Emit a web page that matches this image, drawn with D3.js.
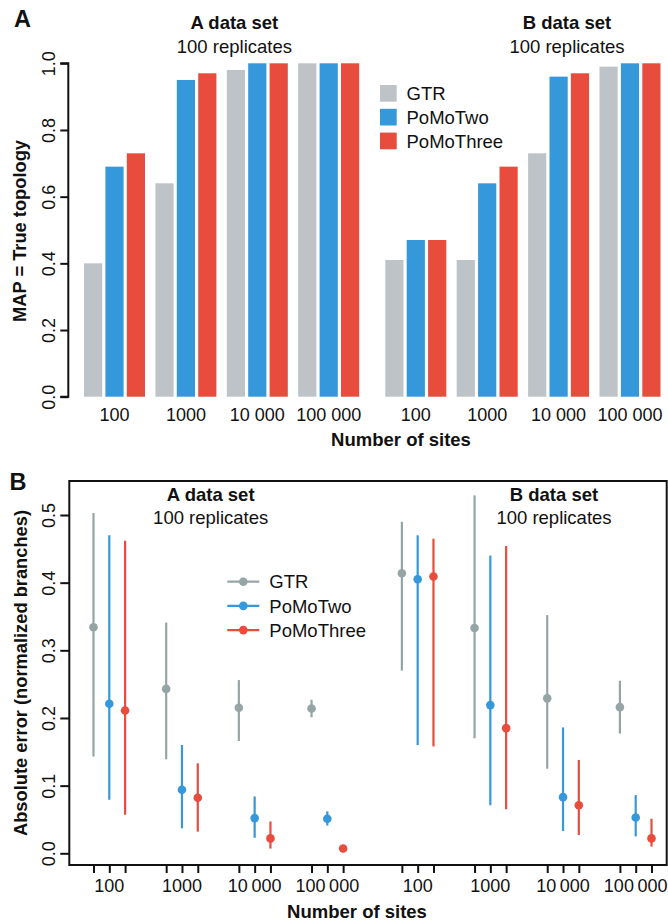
<!DOCTYPE html>
<html><head><meta charset="utf-8">
<script src="https://cdn.jsdelivr.net/npm/d3@7"></script>
<style>
body{margin:0;background:#fff;}
svg text{font-family:"Liberation Sans",Arial,Helvetica,sans-serif;fill:#111;}
</style></head>
<body><svg id="c" width="668" height="923"></svg>
<script>
// ---- data ----
const sites = ["100", "1000", "10 000", "100 000"];
const sitesB = ["100", "1000", "10\u2009000", "100\u2009000"];
const datasets = ["A data set", "B data set"];
const subtitle = "100 replicates";
const series = ["GTR", "PoMoTwo", "PoMoThree"];
const barColors = ["#BDC3C7", "#3498DB", "#E74C3C"];
const pointColors = ["#95A5A6", "#3498DB", "#E74C3C"];

// Panel A: fraction MAP = true topology (A data set then B data set)
const mapGTR       = [0.40, 0.64, 0.98, 1.00, 0.41, 0.41, 0.73, 0.99];
const mapPoMoTwo   = [0.69, 0.95, 1.00, 1.00, 0.47, 0.64, 0.96, 1.00];
const mapPoMoThree = [0.73, 0.97, 1.00, 1.00, 0.47, 0.69, 0.97, 1.00];
const yTicksA = [0, 0.2, 0.4, 0.6, 0.8, 1.0];

// Panel B: absolute error (normalized branches)
const errGTRmid = [0.334, 0.243, 0.215, 0.214, 0.414, 0.333, 0.229, 0.216];
const errGTRlo  = [0.143, 0.139, 0.166, 0.201, 0.270, 0.170, 0.125, 0.177];
const errGTRhi  = [0.503, 0.341, 0.256, 0.227, 0.490, 0.529, 0.352, 0.255];
const errTwoMid = [0.221, 0.094, 0.052, 0.051, 0.405, 0.219, 0.083, 0.053];
const errTwoLo  = [0.079, 0.037, 0.023, 0.041, 0.160, 0.071, 0.033, 0.025];
const errTwoHi  = [0.470, 0.160, 0.084, 0.062, 0.470, 0.440, 0.186, 0.086];
const errThreeMid = [0.211, 0.082, 0.022, 0.007, 0.409, 0.185, 0.071, 0.022];
const errThreeLo  = [0.057, 0.032, 0.007, 0.004, 0.158, 0.065, 0.027, 0.010];
const errThreeHi  = [0.462, 0.133, 0.047, 0.010, 0.465, 0.454, 0.138, 0.051];
const yTicksB = [0, 0.1, 0.2, 0.3, 0.4, 0.5];

const mapVals = [mapGTR, mapPoMoTwo, mapPoMoThree];
const errVals = [
  {mid: errGTRmid, lo: errGTRlo, hi: errGTRhi},
  {mid: errTwoMid, lo: errTwoLo, hi: errTwoHi},
  {mid: errThreeMid, lo: errThreeLo, hi: errThreeHi}
];

const svg = d3.select("#c");
const fmt = d3.format(".1f");
// group position: group index plus extra gap between the two data sets
const groupPos = (g, gap) => (g % 4) + (g >= 4 ? 4 + gap : 0);

// ================= Panel A =================
{
  const gA = svg.append("g");
  const x = d3.scaleLinear().domain([0, 7.22]).range([114.5, 630]);
  const inner = d3.scaleBand().domain(series).range([-30.5, 30.5]).paddingInner(0.15);
  const y = d3.scaleLinear().domain([0, 1]).range([396.7, 63.3]);

  series.forEach((s, si) => {
    gA.append("g").selectAll("rect").data(mapVals[si]).join("rect")
      .attr("x", (d, i) => x(groupPos(i, 0.22)) + inner(s))
      .attr("width", inner.bandwidth())
      .attr("y", d => y(d))
      .attr("height", d => y(0) - y(d))
      .attr("fill", barColors[si]);
  });

  const ax = gA.append("g").attr("transform", "translate(68.3,0)")
    .call(d3.axisLeft(y).tickValues(yTicksA).tickFormat(fmt).tickSize(8).tickPadding(0));
  ax.select(".domain").attr("stroke", "#111").attr("stroke-width", 2).attr("d", `M-8,${y(0)}H0V${y(1)}H-8`);
  ax.selectAll(".tick line").attr("stroke", "#111").attr("stroke-width", 2);
  ax.selectAll(".tick text").attr("x", null).attr("dy", null).attr("text-anchor", "middle")
    .attr("transform", "translate(-13.3,0) rotate(-90)").attr("font-size", 18).attr("fill", "#111");

  // x labels
  const labelsA = [...sites, ...sites];
  gA.append("g").selectAll("text").data(labelsA).join("text")
    .attr("x", (d, i) => x(groupPos(i, 0.22)))
    .attr("y", 420.7).attr("text-anchor", "middle").attr("font-size", 18).text(d => d);

  gA.append("text").attr("x", 401).attr("y", 446).attr("text-anchor", "middle")
    .attr("font-size", 18.5).attr("font-weight", "bold").text("Number of sites");
  gA.append("text").attr("transform", "translate(26,231) rotate(-90)").attr("text-anchor", "middle")
    .attr("font-size", 18.3).attr("font-weight", "bold").text("MAP = True topology");

  // titles
  [[234.4, datasets[0]], [567, datasets[1]]].forEach(([cx, t]) => {
    gA.append("text").attr("x", cx).attr("y", 29).attr("text-anchor", "middle")
      .attr("font-size", 18.5).attr("font-weight", "bold").text(t);
    gA.append("text").attr("x", cx).attr("y", 52.5).attr("text-anchor", "middle")
      .attr("font-size", 18.5).text(subtitle);
  });

  // legend
  const lg = gA.append("g").selectAll("g").data(series).join("g")
    .attr("transform", (d, i) => `translate(380,${85 + i * 23.8})`);
  lg.append("rect").attr("width", 16.7).attr("height", 16.7).attr("fill", (d, i) => barColors[i]);
  lg.append("text").attr("x", 26.5).attr("y", 15).attr("font-size", 18.5).text(d => d);

  gA.append("text").attr("x", 14).attr("y", 26.7).attr("font-size", 23.5).attr("font-weight", "bold").text("A");
}

// ================= Panel B =================
{
  const gB = svg.append("g");
  const x = d3.scaleLinear().domain([0, 7.243]).range([109.3, 635.7]);
  const off = d3.scalePoint().domain(series).range([-15.8, 15.8]);
  const y = d3.scaleLinear().domain([0, 0.5]).range([853.3, 515]);

  // box
  gB.append("rect").attr("x", 69.3).attr("y", 481).attr("width", 597.4).attr("height", 384)
    .attr("fill", "none").attr("stroke", "#111").attr("stroke-width", 2);

  const ay = gB.append("g").attr("transform", "translate(69.3,0)")
    .call(d3.axisLeft(y).tickValues(yTicksB).tickFormat(fmt).tickSize(9).tickPadding(0));
  ay.select(".domain").remove();
  ay.selectAll(".tick line").attr("stroke", "#111").attr("stroke-width", 2);
  ay.selectAll(".tick text").attr("x", null).attr("dy", null).attr("text-anchor", "middle")
    .attr("transform", "translate(-14.3,0) rotate(-90)").attr("font-size", 18).attr("fill", "#111");

  // x ticks (one per series per group)
  const tickPos = [];
  for (let g = 0; g < 8; g++) series.forEach(s => tickPos.push(x(groupPos(g, 0.243)) + off(s)));
  const ax = gB.append("g").attr("transform", "translate(0,865)")
    .call(d3.axisBottom(d3.scaleIdentity()).tickValues(tickPos).tickFormat("").tickSize(8));
  ax.select(".domain").remove();
  ax.selectAll(".tick line").attr("stroke", "#111").attr("stroke-width", 2);

  const labelsB = [...sitesB, ...sitesB];
  gB.append("g").selectAll("text").data(labelsB).join("text")
    .attr("x", (d, i) => x(groupPos(i, 0.243)))
    .attr("y", 891.7).attr("text-anchor", "middle").attr("font-size", 18).text(d => d);

  gB.append("text").attr("x", 357).attr("y", 917.5).attr("text-anchor", "middle")
    .attr("font-size", 18.5).attr("font-weight", "bold").text("Number of sites");
  gB.append("text").attr("transform", "translate(27,673) rotate(-90)").attr("text-anchor", "middle")
    .attr("font-size", 18.3).attr("font-weight", "bold").text("Absolute error (normalized branches)");

  series.forEach((s, si) => {
    const e = errVals[si];
    const gs = gB.append("g");
    gs.selectAll("line").data(e.mid).join("line")
      .attr("x1", (d, i) => x(groupPos(i, 0.243)) + off(s))
      .attr("x2", (d, i) => x(groupPos(i, 0.243)) + off(s))
      .attr("y1", (d, i) => y(e.lo[i])).attr("y2", (d, i) => y(e.hi[i]))
      .attr("stroke", pointColors[si]).attr("stroke-width", 2.2);
    gs.selectAll("circle").data(e.mid).join("circle")
      .attr("cx", (d, i) => x(groupPos(i, 0.243)) + off(s))
      .attr("cy", d => y(d)).attr("r", 4.3).attr("fill", pointColors[si]);
  });

  [[210.7, datasets[0]], [554, datasets[1]]].forEach(([cx, t]) => {
    gB.append("text").attr("x", cx).attr("y", 500.7).attr("text-anchor", "middle")
      .attr("font-size", 18.5).attr("font-weight", "bold").text(t);
    gB.append("text").attr("x", cx).attr("y", 524).attr("text-anchor", "middle")
      .attr("font-size", 18.5).text(subtitle);
  });

  const lg = gB.append("g").selectAll("g").data(series).join("g")
    .attr("transform", (d, i) => `translate(227.3,${581.7 + i * 24.2})`);
  lg.append("line").attr("x1", 0).attr("x2", 32).attr("stroke", (d, i) => pointColors[i]).attr("stroke-width", 2.2);
  lg.append("circle").attr("cx", 16).attr("r", 4.3).attr("fill", (d, i) => pointColors[i]);
  lg.append("text").attr("x", 42).attr("y", 6.6).attr("font-size", 18.5).text(d => d);

  gB.append("text").attr("x", 9.5).attr("y", 490).attr("font-size", 23.5).attr("font-weight", "bold").text("B");
}
</script></body></html>
